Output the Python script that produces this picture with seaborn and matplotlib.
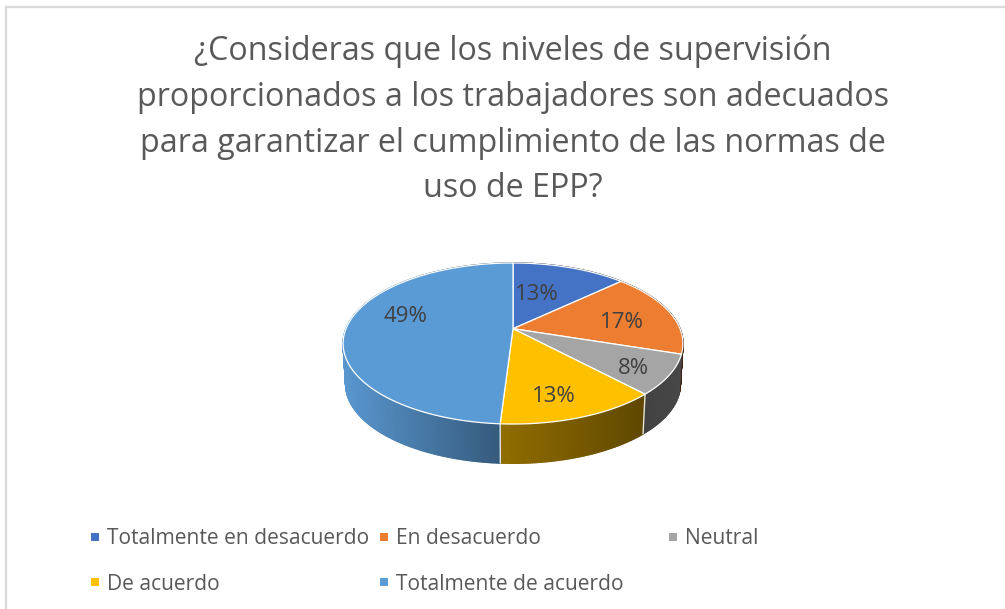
import numpy as np
import matplotlib
matplotlib.use("Agg")
import matplotlib.pyplot as plt
import seaborn as sns

title_text = ("¿Consideras que los niveles de supervisión\n"
              "proporcionados a los trabajadores son adecuados\n"
              "para garantizar el cumplimiento de las normas de\n"
              "uso de EPP?")
categories = ["Totalmente en desacuerdo", "En desacuerdo", "Neutral",
              "De acuerdo", "Totalmente de acuerdo"]
values = [13, 17, 8, 13, 49]
hex_colors = ["#4472C4", "#ED7D31", "#A5A5A5", "#FFC000", "#5B9BD5"]

sns.set_theme(style="white")
plt.rcParams["font.family"] = ["Open Sans", "DejaVu Sans"]
palette = sns.color_palette(hex_colors)
TEXT = "#595959"
LABEL = "#404040"

# side-wall shading (left, right multiplier) per slice
wall_shade = [(0.3, 0.3), (0.27, 0.27), (0.40, 0.43), (0.57, 0.37), (0.97, 0.58)]
label_xy = [(537, 294), (622, 322), (633, 368), (554, 397), (405, 317)]
legend_xy = [(90, 537), (379, 537), (668, 537), (90, 582), (379, 582)]

fig = plt.figure(figsize=(10.05, 6.09), dpi=100, facecolor="white")
ax = fig.add_axes([0, 0, 1, 1])
ax.set_xlim(0, 1005)
ax.set_ylim(609, 0)
ax.axis("off")

# frame of the chart area
ax.plot([6, 6, 1005], [609, 7, 7], color="#d9d9d9", lw=1.6, solid_capstyle="butt")

# perspective projection of the unit disc
APEX_X, APEX_Y = 513.0, 328.7
K, A, B = 0.184, 77.8, 167.0


def project(theta_deg, r=1.0, base=False):
    t = np.radians(theta_deg)
    u, v = r * np.sin(t), r * np.cos(t)
    d = 1 + K * v
    x, y = B * u / d, A * v / d
    if base:
        x, y, = x * 0.985, y * 0.985 - 40.7
    return APEX_X + x, APEX_Y - y


edges = np.concatenate([[0], np.cumsum(values)]) / np.sum(values) * 360.0

# side walls
for i, col in enumerate(palette):
    th = np.linspace(edges[i], edges[i + 1], max(int((edges[i + 1] - edges[i]) * 2), 2) + 1)
    xs, _ = project(th)
    visible = np.cos(np.radians(th)) <= 0.15
    xv = xs[visible] if visible.any() else xs
    x0, x1 = xv.min(), xv.max()
    for a, b in zip(th[:-1], th[1:]):
        xa, ya = project(a)
        xb, yb = project(b)
        xc, yc = project(b, base=True)
        xd, yd = project(a, base=True)
        f = np.clip((0.5 * (xa + xb) - x0) / max(x1 - x0, 1), 0, 1)
        m = wall_shade[i][0] + f * (wall_shade[i][1] - wall_shade[i][0])
        c = tuple(np.array(col) * m)
        ax.fill([xa, xb, xc, xd], [ya, yb, yc, yd], color=c, lw=1.0, zorder=2)

for e in edges:
    if 120 < e < 270:
        xa, ya = project(e)
        xb, yb = project(e, base=True)
        ax.plot([xa, xb], [ya, yb], color="white", lw=1.0, alpha=0.85, zorder=3)

# top surface
for i, col in enumerate(palette):
    th = np.linspace(edges[i], edges[i + 1], 200)
    xs, ys = project(th)
    ax.fill(np.r_[APEX_X, xs], np.r_[APEX_Y, ys], facecolor=col,
            edgecolor="white", lw=0.9, alpha=1, zorder=4, joinstyle="round")

# data labels
for v, (x, y) in zip(values, label_xy):
    ax.text(x, y, f"{v}%", ha="center", va="center", fontsize=16, color=LABEL, zorder=5)

# legend
for name, col, (x, y) in zip(categories, palette, legend_xy):
    ax.scatter([x + 5], [y], marker="s", s=34, color=[col], linewidths=0, zorder=5)
    ax.text(x + 17, y + 2, name, ha="left", va="center", fontsize=15.1, color=TEXT, zorder=5)

# title
fig.suptitle(title_text, x=513 / 1005, y=1 - 35 / 609, ha="center", va="top",
             fontsize=23.2, color=TEXT, linespacing=1.5, fontweight="normal")

fig.savefig("out.png", dpi=100, facecolor="white")
